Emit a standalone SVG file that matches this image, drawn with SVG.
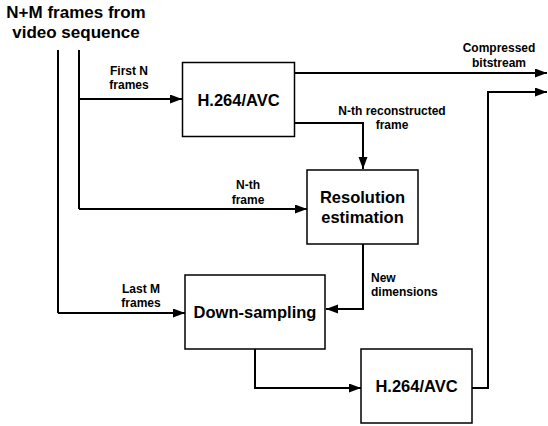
<svg xmlns="http://www.w3.org/2000/svg" width="548" height="426" viewBox="0 0 548 426">
  <style>
    .box { fill: #ffffff; stroke: #000000; stroke-width: 1.5; }
    .wire { fill: none; stroke: #000000; stroke-width: 2; marker-end: url(#arrow); }
    .plain { fill: none; stroke: #000000; stroke-width: 2; }
    .title { font-family: "Liberation Sans", Arial, sans-serif; font-weight: bold; font-size: 17px; text-anchor: middle; }
    .node { font-family: "Liberation Sans", Arial, sans-serif; font-weight: bold; font-size: 16.5px; text-anchor: middle; }
    .lbl { font-family: "Liberation Sans", Arial, sans-serif; font-weight: bold; font-size: 12px; text-anchor: middle; }
    .lbl-left { text-anchor: start; }
  </style>
  <defs>
    <marker id="arrow" markerUnits="userSpaceOnUse" markerWidth="13" markerHeight="10" refX="12" refY="4.5" orient="auto">
      <path d="M0,0 L12,4.5 L0,9 z" fill="#000000"/>
    </marker>
  </defs>
  <rect width="548" height="426" fill="#ffffff"/>

  <text class="title" x="76" y="18">N+M frames from</text>
  <text class="title" x="76" y="38">video sequence</text>

  <g id="connectors">
    <!-- input streams -->
    <path class="plain" d="M58,50 V313"/>
    <path class="plain" d="M79,50 V209"/>
    <path class="wire" d="M79,99 H182"/>
    <path class="wire" d="M79,209 H307"/>
    <path class="wire" d="M58,313 H185"/>
    <!-- encoder outputs -->
    <path class="wire" d="M294,73 H547"/>
    <path class="wire" d="M294,123 H363 V169"/>
    <!-- resolution to down-sampling -->
    <path class="wire" d="M363,244 V309 H326"/>
    <!-- down-sampling to second encoder -->
    <path class="wire" d="M255,349 V388 H361"/>
    <!-- second encoder output -->
    <path class="wire" d="M472,388 H488 V92 H547"/>
  </g>

  <g id="encoder1">
    <rect class="box" x="182.5" y="62.5" width="112" height="74"/>
    <text class="node" x="238.5" y="106">H.264/AVC</text>
  </g>
  <g id="resolution">
    <rect class="box" x="307" y="170" width="111" height="74"/>
    <text class="node" x="362.5" y="203">Resolution</text>
    <text class="node" x="362.5" y="223">estimation</text>
  </g>
  <g id="downsampling">
    <rect class="box" x="185" y="275" width="140" height="74"/>
    <text class="node" x="255" y="318">Down-sampling</text>
  </g>
  <g id="encoder2">
    <rect class="box" x="361" y="349" width="111" height="74"/>
    <text class="node" x="416.5" y="392">H.264/AVC</text>
  </g>

  <g id="labels">
    <text class="lbl" x="129" y="75">First N</text>
    <text class="lbl" x="129" y="89">frames</text>
    <text class="lbl" x="499" y="52">Compressed</text>
    <text class="lbl" x="499" y="67">bitstream</text>
    <text class="lbl" x="392" y="115">N-th reconstructed</text>
    <text class="lbl" x="392" y="129">frame</text>
    <text class="lbl" x="248" y="189">N-th</text>
    <text class="lbl" x="248" y="204">frame</text>
    <text class="lbl lbl-left" x="371" y="282">New</text>
    <text class="lbl lbl-left" x="371" y="296">dimensions</text>
    <text class="lbl" x="141" y="293">Last M</text>
    <text class="lbl" x="141" y="307">frames</text>
  </g>
</svg>
